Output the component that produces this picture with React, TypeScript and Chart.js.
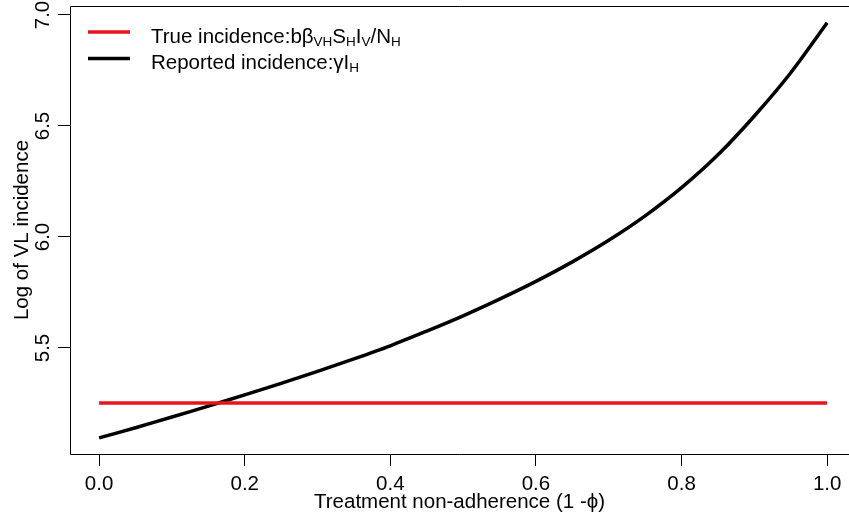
import React, { useEffect, useRef } from "react";
import { Chart, registerables } from "chart.js";

Chart.register(...registerables);

// ---- data ----
const NON_ADHERENCE = [0, 0.05, 0.1, 0.15, 0.2, 0.25, 0.3, 0.35, 0.4, 0.45, 0.5, 0.55, 0.6, 0.65, 0.7, 0.75, 0.8, 0.85, 0.9, 0.95, 1.0];
const REPORTED_INCIDENCE = [5.095, 5.141, 5.189, 5.238, 5.289, 5.341, 5.395, 5.451, 5.51, 5.576, 5.645, 5.72, 5.8, 5.888, 5.985, 6.095, 6.222, 6.37, 6.545, 6.74, 6.965];
const TRUE_X = [0, 1];
const TRUE_INCIDENCE = [5.252, 5.252];
const X_TICKS = [0, 0.2, 0.4, 0.6, 0.8, 1.0];
const Y_TICKS = [5.5, 6.0, 6.5, 7.0];
const X_LIMITS = [-0.04, 1.03];
const Y_LIMITS = [5.0225, 7.0405];
const X_TITLE = "Treatment non-adherence (1 -\u03D5)";
const Y_TITLE = "Log of VL incidence";
// legend labels: [text, isSubscript]
const TRUE_LABEL: [string, boolean][] = [["True incidence:b\u03B2", false], ["VH", true], ["S", false], ["H", true], ["I", false], ["V", true], ["/N", false], ["H", true]];
const REPORTED_LABEL: [string, boolean][] = [["Reported incidence:\u03B3", false], ["I", false], ["H", true]];

const FONT = "'Liberation Sans', Arial, sans-serif";
const FS = 20.5;
const SUB_FS = 13.5;

const frameAndLegend = {
  id: "frameAndLegend",
  afterDraw(chart: any) {
    const { ctx, chartArea: a, width } = chart;
    ctx.save();
    ctx.strokeStyle = "#000";
    ctx.lineWidth = 1;
    const l = Math.round(a.left) + 0.5;
    const t = Math.round(a.top) + 0.5;
    const b = Math.round(a.bottom) + 0.5;
    ctx.beginPath();
    ctx.moveTo(width, t);
    ctx.lineTo(l, t);
    ctx.lineTo(l, b);
    ctx.lineTo(width, b);
    ctx.stroke();

    const items = [
      { parts: TRUE_LABEL, color: chart.data.datasets[0].borderColor, lineY: 32, baseY: 42.5 },
      { parts: REPORTED_LABEL, color: chart.data.datasets[1].borderColor, lineY: 58.5, baseY: 69 },
    ];
    items.forEach((it) => {
      ctx.strokeStyle = it.color;
      ctx.lineWidth = 3.5;
      ctx.beginPath();
      ctx.moveTo(a.left + 18, it.lineY);
      ctx.lineTo(a.left + 60, it.lineY);
      ctx.stroke();
      let x = a.left + 81;
      ctx.fillStyle = "#000";
      ctx.textAlign = "left";
      ctx.textBaseline = "alphabetic";
      it.parts.forEach(([txt, sub]) => {
        ctx.font = `${sub ? SUB_FS : FS}px ${FONT}`;
        ctx.fillText(txt, x, it.baseY + (sub ? 3 : 0));
        x += ctx.measureText(txt).width;
      });
    });
    ctx.restore();
  },
};

const zeroPad = (s: any) => {
  s.paddingTop = 0;
  s.paddingBottom = 0;
  s.paddingLeft = 0;
  s.paddingRight = 0;
};

export default function App() {
  const ref = useRef<HTMLCanvasElement | null>(null);
  useEffect(() => {
    if (!ref.current) return;
    const chart = new Chart(ref.current, {
      type: "line",
      data: {
        datasets: [
          {
            label: "True incidence",
            data: TRUE_X.map((x, i) => ({ x, y: TRUE_INCIDENCE[i] })),
            borderColor: "#e8141a",
            borderWidth: 3.5,
            pointRadius: 0,
            tension: 0,
          },
          {
            label: "Reported incidence",
            data: NON_ADHERENCE.map((x, i) => ({ x, y: REPORTED_INCIDENCE[i] })),
            borderColor: "#000000",
            borderWidth: 3.5,
            pointRadius: 0,
            tension: 0.3,
          },
        ],
      },
      options: {
        animation: false,
        responsive: false,
        maintainAspectRatio: false,
        devicePixelRatio: 1,
        layout: { padding: { top: 6, right: 0, left: 0, bottom: 0 } },
        plugins: { legend: { display: false }, tooltip: { enabled: false } },
        scales: {
          x: {
            type: "linear",
            min: X_LIMITS[0],
            max: X_LIMITS[1],
            afterBuildTicks: (s: any) => { s.ticks = X_TICKS.map((v) => ({ value: v })); },
            afterFit: (s: any) => { s.height = 69; zeroPad(s); },
            grid: { display: true, drawOnChartArea: false, drawTicks: true, tickLength: 12, color: "#000", lineWidth: 1 },
            border: { display: false },
            ticks: {
              color: "#000",
              font: { family: FONT, size: FS },
              padding: 6,
              maxRotation: 0,
              autoSkip: false,
              callback: (v: any) => Number(v).toFixed(1),
            },
            title: { display: true, text: X_TITLE, color: "#000", font: { family: FONT, size: FS }, padding: { top: 0, bottom: 8 } },
          },
          y: {
            type: "linear",
            min: Y_LIMITS[0],
            max: Y_LIMITS[1],
            afterBuildTicks: (s: any) => { s.ticks = Y_TICKS.map((v) => ({ value: v })); },
            afterFit: (s: any) => { s.width = 70; zeroPad(s); },
            grid: { display: true, drawOnChartArea: false, drawTicks: true, tickLength: 12, color: "#000", lineWidth: 1 },
            border: { display: false },
            ticks: {
              color: "#000",
              font: { family: FONT, size: FS },
              padding: 0,
              minRotation: 90,
              maxRotation: 90,
              crossAlign: "center",
              autoSkip: false,
              callback: (v: any) => Number(v).toFixed(1),
            },
            title: { display: true, text: Y_TITLE, color: "#000", font: { family: FONT, size: FS }, padding: { top: 10, bottom: 0 } },
          },
        },
      },
      plugins: [frameAndLegend],
    } as any);
    return () => chart.destroy();
  }, []);
  return (
    <div style={{ position: "fixed", left: 0, top: 0, width: 849, height: 523, overflow: "hidden", background: "#fff" }}>
      <canvas ref={ref} width={849} height={523} style={{ width: 849, height: 523, display: "block" }} />
    </div>
  );
}
